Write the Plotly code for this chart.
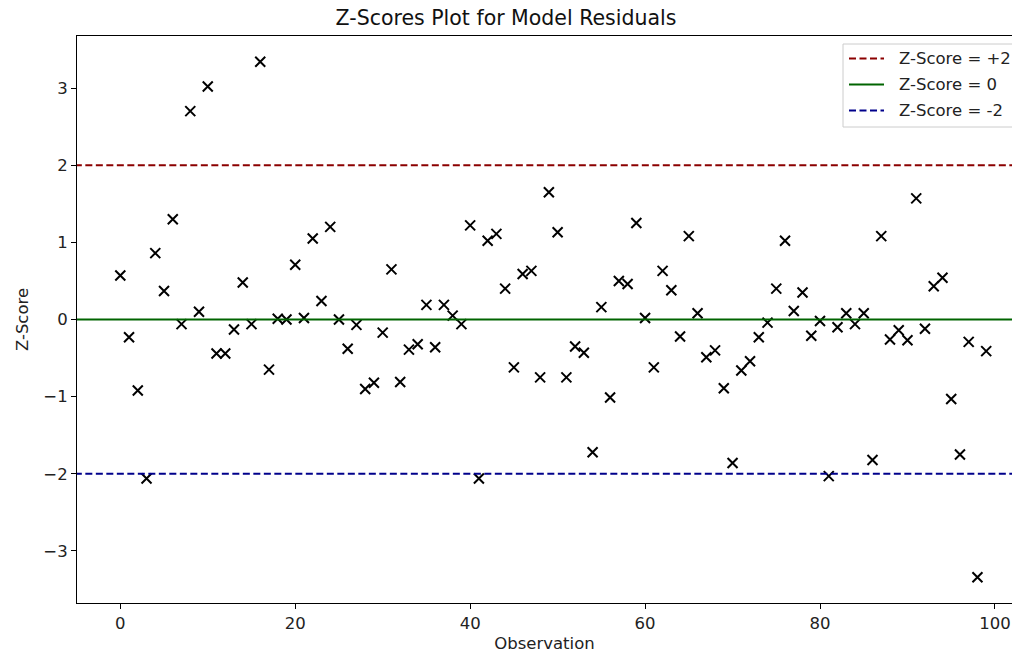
import plotly.graph_objects as go

observations = list(range(100))
z_scores = [
    0.57, -0.23, -0.92, -2.06, 0.86, 0.37, 1.30, -0.06, 2.70, 0.10,
    3.02, -0.44, -0.44, -0.13, 0.48, -0.06, 3.34, -0.65, 0.01, 0.00,
    0.71, 0.02, 1.05, 0.24, 1.20, 0.00, -0.38, -0.07, -0.90, -0.82,
    -0.17, 0.65, -0.81, -0.39, -0.32, 0.19, -0.36, 0.19, 0.05, -0.06,
    1.22, -2.06, 1.02, 1.11, 0.40, -0.62, 0.59, 0.63, -0.75, 1.65,
    1.13, -0.75, -0.35, -0.43, -1.72, 0.16, -1.01, 0.50, 0.46, 1.25,
    0.02, -0.62, 0.63, 0.38, -0.22, 1.08, 0.08, -0.49, -0.40, -0.89,
    -1.86, -0.66, -0.54, -0.23, -0.04, 0.40, 1.02, 0.11, 0.35, -0.21,
    -0.02, -2.03, -0.10, 0.08, -0.06, 0.08, -1.82, 1.08, -0.26, -0.14,
    -0.27, 1.57, -0.12, 0.43, 0.54, -1.03, -1.75, -0.29, -3.34, -0.41,
]
thresholds = [2, 0, -2]
threshold_names = ["Z-Score = +2", "Z-Score = 0", "Z-Score = -2"]
threshold_colors = ["#8b0000", "#006400", "#00008b"]
threshold_dash = ["dash", "solid", "dash"]
x_ticks = [0, 20, 40, 60, 80, 100]
y_ticks = [-3, -2, -1, 0, 1, 2, 3]

x_range = [-4.95, 101.95]
y_range = [-3.674, 3.674]

W, H = 1012, 656
ML, MR, MT, MB = 77, 0, 36, 53
PW, PH = W - ML - MR, H - MT - MB


def px_x(p):
    return (p - ML) / PW


def px_y(p):
    return (H - MB - p) / PH


font = "DejaVu Sans, sans-serif"
fs = 16.5
fig = go.Figure()

fig.add_trace(go.Scatter(
    x=observations, y=z_scores, mode="markers",
    marker=dict(symbol="x-thin", size=10, color="black",
                line=dict(width=2, color="black")),
    showlegend=False, hoverinfo="x+y",
))

dash_pattern = "7px,3.5px"
for t, name, c, d in zip(thresholds, threshold_names, threshold_colors, threshold_dash):
    fig.add_trace(go.Scatter(
        x=[-10, 110], y=[t, t], mode="lines", name=name, showlegend=False,
        line=dict(color=c, width=2, dash=dash_pattern if d == "dash" else "solid"),
    ))

# Legend (drawn in paper space so it can run off the right edge as in the reference)
shapes = [dict(type="rect", xref="paper", yref="paper",
               x0=px_x(843), x1=px_x(1030), y0=px_y(127), y1=px_y(44),
               line=dict(color="#cccccc", width=1), fillcolor="rgba(255,255,255,0.85)",
               layer="above")]
annotations = []
row_y = [58.5, 84.5, 110.5]
for ry, name, c, d in zip(row_y, threshold_names, threshold_colors, threshold_dash):
    shapes.append(dict(type="line", xref="paper", yref="paper",
                       x0=px_x(849), x1=px_x(884), y0=px_y(ry), y1=px_y(ry),
                       line=dict(color=c, width=2, dash=dash_pattern if d == "dash" else "solid"),
                       layer="above"))
    annotations.append(dict(text=name, xref="paper", yref="paper",
                            x=px_x(897), y=px_y(ry), xanchor="left", yanchor="middle",
                            showarrow=False, font=dict(family=font, size=fs, color="#222")))

axis_common = dict(
    showgrid=False, zeroline=False, showline=True, linecolor="black",
    linewidth=1, mirror=True, ticks="outside", ticklen=5, tickwidth=1,
    tickcolor="black", tickfont=dict(family=font, size=fs, color="#222"),
    ticklabeloverflow="allow",
)

fig.update_layout(
    width=W, height=H,
    margin=dict(l=ML, r=MR, t=MT, b=MB),
    plot_bgcolor="white", paper_bgcolor="white",
    showlegend=False,
    title=dict(text="Z-Scores Plot for Model Residuals", x=0.5, xanchor="center",
               y=1 - 18 / H, yanchor="middle",
               font=dict(family=font, size=20.5, color="#111")),
    xaxis=dict(range=x_range, tickvals=x_ticks,
               title=dict(text="Observation", font=dict(family=font, size=fs, color="#222"), standoff=5),
               **axis_common),
    yaxis=dict(range=y_range, tickvals=y_ticks,
               title=dict(text="Z-Score", font=dict(family=font, size=fs, color="#222"), standoff=10),
               **axis_common),
    shapes=shapes,
    annotations=annotations,
)

fig.write_html("out.html")
